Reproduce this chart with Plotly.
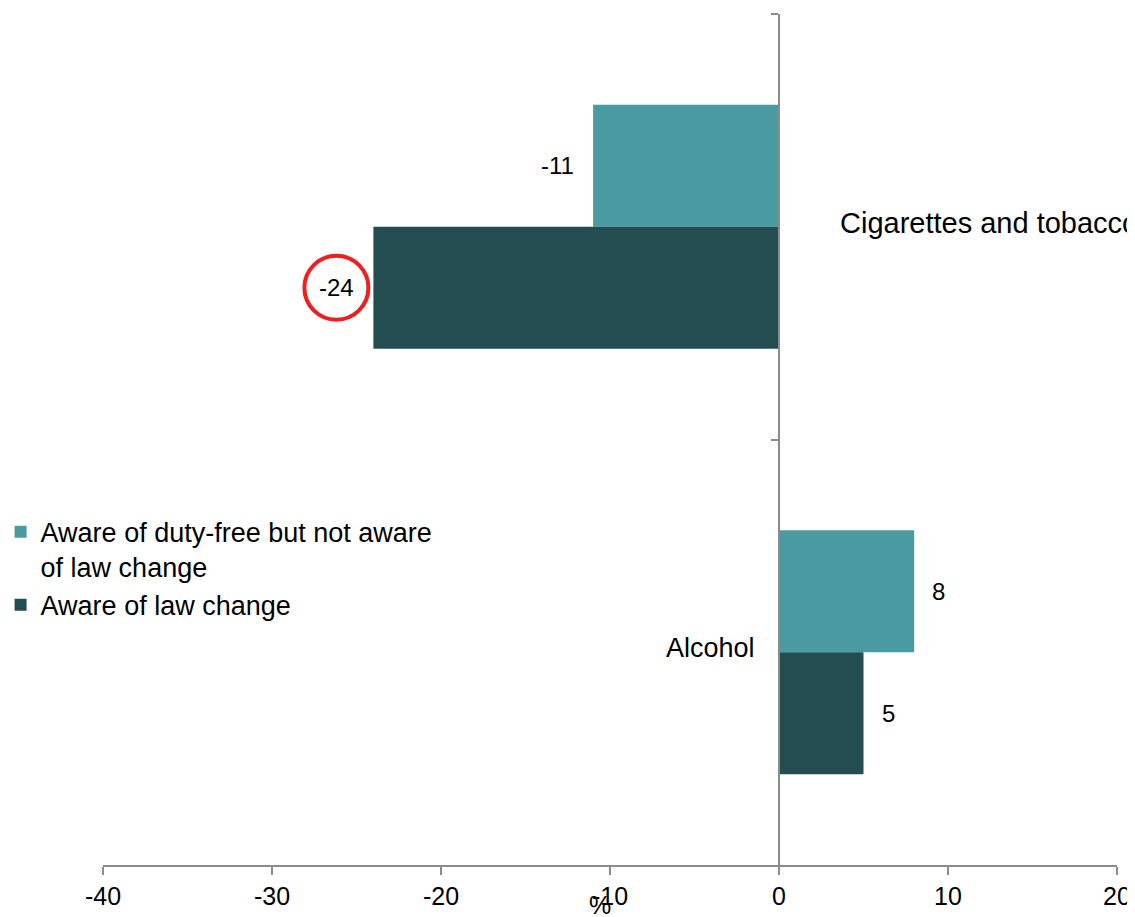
import plotly.graph_objects as go

categories = ["Cigarettes and tobacco", "Alcohol"]
series_names = ["Aware of duty-free but not aware<br>of law change", "Aware of law change"]
not_aware_law = [-11, 8]
aware_law = [-24, 5]
x_ticks = [-40, -30, -20, -10, 0, 10, 20]
highlight_value = -24

teal = "rgb(74,154,161)"
dark = "rgb(36,77,81)"
axis_gray = "#8c8c8c"
FONT = "Liberation Sans, Arial, sans-serif"
category_font_sizes = [29, 27]

xmin, xmax = -40, 20
group_width = 0.573
bar_offsets = [-group_width / 4, group_width / 4]

fig = go.Figure()
for name, vals, col in [(series_names[0], not_aware_law, teal), (series_names[1], aware_law, dark)]:
    fig.add_trace(go.Bar(
        y=categories, x=vals, orientation="h", name=name,
        marker=dict(color=col, line=dict(width=0)),
    ))

annotations = []
# data labels
for si, vals in enumerate([not_aware_law, aware_law]):
    for ci, v in enumerate(vals):
        annotations.append(dict(
            x=v, y=ci + bar_offsets[si], xref="x", yref="y",
            text=str(v), showarrow=False,
            xanchor="right" if v < 0 else "left",
            xshift=-17 if v < 0 else 16,
            font=dict(size=24, color="black", family=FONT),
        ))
# category labels next to the zero axis
for ci, cat in enumerate(categories):
    neg = min(not_aware_law[ci], aware_law[ci]) < 0
    annotations.append(dict(
        x=0, y=ci, xref="x", yref="y", text=cat, showarrow=False,
        xanchor="left" if neg else "right",
        xshift=59 if neg else -22, yshift=4,
        font=dict(size=category_font_sizes[ci], color="black", family=FONT),
    ))
# axis title "%"
annotations.append(dict(
    x=0.49, y=-0.047, xref="paper", yref="paper", text="%", showarrow=False,
    xanchor="center", yanchor="middle",
    font=dict(size=25, color="black", family=FONT),
))

shapes = [dict(
    type="circle", xref="x", yref="y",
    xsizemode="pixel", ysizemode="pixel",
    xanchor=highlight_value, yanchor=0 + bar_offsets[1],
    x0=-69, x1=-5, y0=-32, y1=32,
    line=dict(color="rgb(240,30,30)", width=4),
)]

fig.update_layout(
    width=1127, height=909,
    margin=dict(l=95, r=18, t=6, b=52, autoexpand=False),
    paper_bgcolor="white", plot_bgcolor="white",
    barmode="group", bargap=1 - group_width, bargroupgap=0,
    font=dict(family=FONT, color="black", size=24),
    showlegend=True,
    legend=dict(
        x=-0.101, y=0.42, xanchor="left", yanchor="top",
        font=dict(size=27, family=FONT, color="black"),
        bgcolor="rgba(0,0,0,0)", tracegroupgap=0, itemwidth=30,
        traceorder="normal", valign="top",
    ),
    annotations=annotations,
    shapes=shapes,
)
fig.update_xaxes(
    range=[xmin, xmax], tickvals=x_ticks, ticktext=[str(t) for t in x_ticks],
    showgrid=False, zeroline=False,
    showline=True, linecolor=axis_gray, linewidth=2,
    ticks="outside", ticklen=8, tickwidth=2, tickcolor=axis_gray,
    tickfont=dict(size=25, color="black", family=FONT),
)
fig.update_yaxes(
    type="category", categoryorder="array", categoryarray=categories,
    autorange="reversed",
    anchor="free", position=(0 - xmin) / (xmax - xmin),
    showgrid=False, zeroline=False,
    showline=True, linecolor=axis_gray, linewidth=2,
    ticks="outside", ticklen=7, tickwidth=2, tickcolor=axis_gray,
    tickson="boundaries", showticklabels=False,
)

fig.write_html("out.html")
